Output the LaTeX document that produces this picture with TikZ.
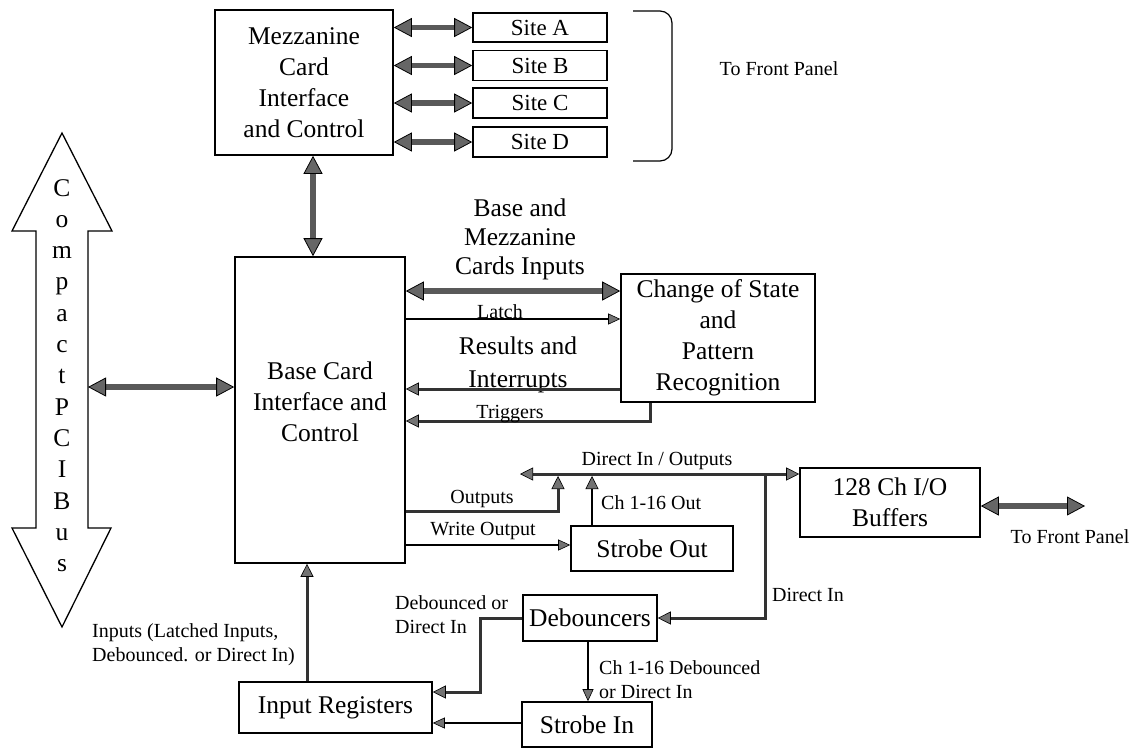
\documentclass[tikz,border=0pt]{standalone}
\usepackage{fontspec}
\setmainfont{Liberation Serif}
\usetikzlibrary{arrows.meta}
\newcommand\bigf{\fontsize{25.5}{31}\selectfont}
\newcommand\sitef{\fontsize{23}{28}\selectfont}
\newcommand\smf{\fontsize{20}{24}\selectfont}
\tikzset{
  box/.style={draw, line width=1.6pt, inner sep=0pt, align=center, font=\bigf},
  lbl/.style={inner sep=0pt, font=\smf, align=left},
  blbl/.style={inner sep=0pt, font=\bigf, align=center},
  bhead/.tip={Triangle[length=18pt,width=19pt,color=black,fill=black!60,line width=0.8pt]},
  mhead/.tip={Triangle[length=13pt,width=13pt,color=black,fill=black!55,line width=0.6pt]},
  shead/.tip={Triangle[length=12pt,width=11pt,color=black,fill=black!55,line width=0.6pt]},
  fat/.style={line width=5.5pt, draw=black!65, arrows={bhead-bhead}},
  med/.style={line width=3pt, draw=black!80},
  thn/.style={line width=1.4pt, draw=black},
}
\begin{document}
\begin{tikzpicture}[x=1pt,y=-1pt]
\useasboundingbox (0,0) rectangle (1146,748);

% ---------- boxes ----------
\node[box, minimum width=178pt, minimum height=145pt] (mezz) at (304,82.5) {Mezzanine\\Card\\Interface\\and Control};
\node[box, font=\sitef, minimum width=134pt, minimum height=29pt] (siteA) at (540,27.5) {Site A};
\node[box, font=\sitef, minimum width=134pt, minimum height=30pt] (siteB) at (540,65.5) {Site B};
\node[box, font=\sitef, minimum width=134pt, minimum height=30pt] (siteC) at (540,103) {Site C};
\node[box, font=\sitef, minimum width=134pt, minimum height=30pt] (siteD) at (540,142) {Site D};
\node[box, minimum width=170pt, minimum height=306pt] (base) at (320,410) {};
\node[blbl] (baseT) at (320,402) {Base Card\\Interface and\\Control};
\node[box, minimum width=194pt, minimum height=128pt] (cos) at (718,338) {Change of State\\and\\Pattern\\Recognition};
\node[box, minimum width=180pt, minimum height=69pt] (buf) at (890,502.5) {128 Ch I/O\\Buffers};
\node[box, minimum width=162pt, minimum height=45pt] (sout) at (652,548.5) {Strobe Out};
\node[box, minimum width=134pt, minimum height=46pt] (deb) at (590,618) {Debouncers};
\node[box, minimum width=193pt, minimum height=51pt] (ireg) at (335.5,707.5) {Input Registers};
\node[box, minimum width=130pt, minimum height=45pt] (sin) at (587,724.5) {Strobe In};

% ---------- CompactPCI bus ----------
\draw[line width=1.3pt, line join=miter] (62,133) -- (112,231) -- (88,231) -- (88,528) -- (111,528) -- (62,627)
  -- (12,528) -- (36,528) -- (36,231) -- (12,231) -- cycle;
\foreach \l [count=\i from 0] in {C,o,m,p,a,c,t,P,C,I,B,u,s}
  \node[blbl, anchor=base] (bus\i) at (62,196+31.3*\i) {\l};
\coordinate (busR) at (88,387);

% ---------- brace ----------
\draw[line width=1.2pt, rounded corners=12pt] (633,11) -- (672,11) -- (672,161) -- (633,161);
\node[lbl] (fpTop) at (779,69) {To Front Panel};

% ---------- fat connectors ----------
\draw[fat] (mezz.east |- siteA) -- (siteA.west);
\draw[fat] (mezz.east |- siteB) -- (siteB.west);
\draw[fat] (mezz.east |- siteC) -- (siteC.west);
\draw[fat] (mezz.east |- siteD) -- (siteD.west);
\draw[fat] (mezz.south -| 313,0) -- (base.north -| 313,0);
\draw[fat] (busR) -- (base.west |- busR);
\draw[fat] (base.east |- 0,291) -- (cos.west |- 0,291);
\coordinate (fpR) at (1085,506);
\draw[fat] (buf.east |- fpR) -- (fpR);
\node[lbl] (fpR2) at (1070,537) {To Front Panel};

% ---------- base <-> change of state ----------
\node[blbl, font=\fontsize{25.5}{29}\selectfont] (bmText) at (520,239) {Base and\\Mezzanine\\Cards Inputs};
\draw[thn, -shead] (base.east |- 0,319) -- (cos.west |- 0,319);
\node[lbl, anchor=base] (latchT) at (500,318) {Latch};
\node[blbl, font=\fontsize{25.5}{33}\selectfont] (resT) at (518,365) {Results and\\Interrupts};
\draw[med, -mhead] (cos.west |- 0,389) -- (base.east |- 0,389);
\draw[med, -mhead] (cos.south -| 650,0) |- (base.east |- 0,421);
\node[lbl, anchor=base] (trigT) at (510,418) {Triggers};

% ---------- direct in / outputs bus ----------
\coordinate (dioL) at (520,474);
\coordinate (jDI) at (765,474);
\draw[med, arrows={mhead-mhead}] (dioL) -- (buf.west |- dioL);
\node[lbl] (dioT) at (657,461) {Direct In / Outputs};
\draw[med, -mhead] (base.east |- 0,511) -| (558,476);
\node[lbl] (outT) at (482,499) {Outputs};
\draw[thn, -mhead] (sout.north -| 592,0) -- (592,476);
\node[lbl, anchor=west] (ch16T) at (601,503) {Ch 1-16 Out};
\draw[thn, -shead] (base.east |- 0,545) -- (sout.west |- 0,545);
\node[lbl] (woT) at (483,531) {Write Output};

% ---------- direct in -> debouncers ----------
\draw[med, -mhead] (jDI) |- (deb.east);
\node[lbl, anchor=west] (diT) at (772,595) {Direct In};

% ---------- debouncers -> input registers ----------
\draw[med, -mhead] (deb.west) -| (480,656) |- (ireg.east |- 0,692);
\node[lbl, anchor=west] (dodT) at (395,614.5) {Debounced or\\Direct In};
\draw[thn, line width=2pt, -shead] (sin.west |- 0,723) -- (ireg.east |- 0,723);
\draw[thn, line width=2pt, -shead] (deb.south -| 588,0) -- (sin.north -| 588,0);
\node[lbl, anchor=west] (c16dT) at (599,679.5) {Ch 1-16 Debounced\\or Direct In};

% ---------- input registers -> base ----------
\draw[med, -mhead] (ireg.north -| 307,0) -- (base.south -| 307,0);
\node[lbl, anchor=west] (inT) at (92,645) {Inputs (Latched Inputs,\\Debounced. or Direct In)};
\end{tikzpicture}
\end{document}
